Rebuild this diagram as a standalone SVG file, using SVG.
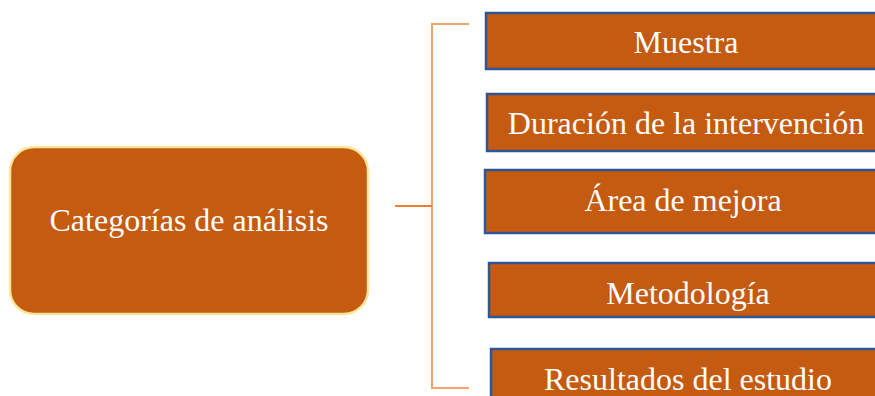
<svg xmlns="http://www.w3.org/2000/svg" width="875" height="396" viewBox="0 0 875 396">
<style>
.box{fill:#C55A11;stroke:#2F5597;stroke-width:2.5}
.t{font-family:"Liberation Serif","Times New Roman",serif;font-size:32px;fill:#FFFFFF;text-anchor:middle}
.br{fill:none;stroke:#F4A46A;stroke-width:2}
</style>
<rect width="875" height="396" fill="#FFFFFF"/>
<g id="connectors">
<path class="br" d="M469,24 H432 V388 H469"/>
<line x1="395" y1="206" x2="432" y2="206" stroke="#ED7D31" stroke-width="2"/>
</g>
<g id="root">
<rect x="10" y="147" width="358" height="167" rx="24" ry="24" fill="#C55A11" stroke="#FFE699" stroke-width="2.5"/>
<text class="t" x="189" y="231">Categorías de análisis</text>
</g>
<g id="n1">
<rect class="box" x="486" y="13" width="420" height="56"/>
<text class="t" x="686" y="53">Muestra</text>
</g>
<g id="n2">
<rect class="box" x="487" y="94" width="420" height="57"/>
<text class="t" x="686" y="134">Duración de la intervención</text>
</g>
<g id="n3">
<rect class="box" x="485" y="170" width="420" height="63"/>
<text class="t" x="683" y="211">Área de mejora</text>
</g>
<g id="n4">
<rect class="box" x="489" y="263" width="420" height="54"/>
<text class="t" x="688" y="304">Metodología</text>
</g>
<g id="n5">
<rect class="box" x="491" y="349" width="420" height="70"/>
<text class="t" x="688" y="390">Resultados del estudio</text>
</g>
</svg>
